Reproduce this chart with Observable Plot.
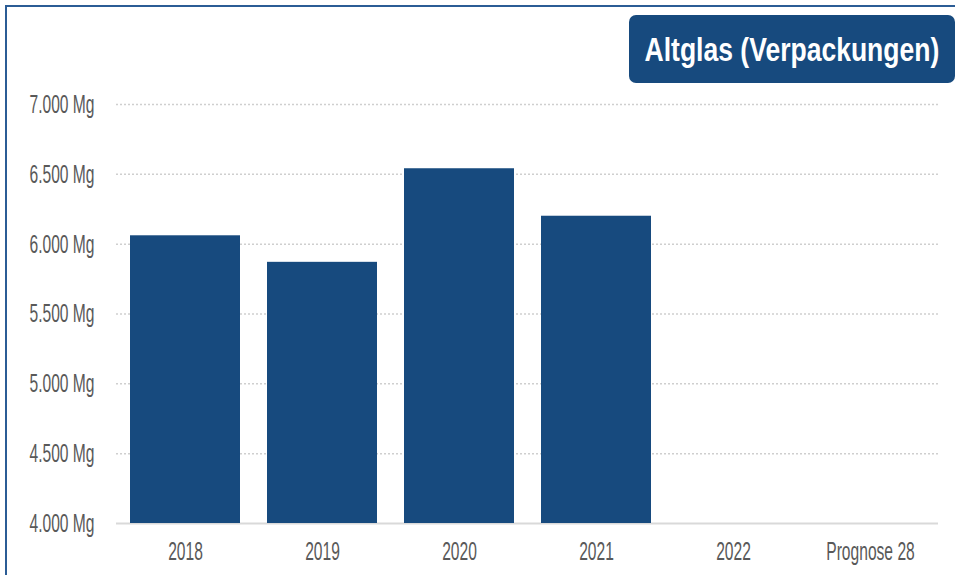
<!DOCTYPE html>
<html>
<head>
<meta charset="utf-8">
<script src="https://cdn.jsdelivr.net/npm/d3@7"></script>
<script src="https://cdn.jsdelivr.net/npm/@observablehq/plot@0.6"></script>
<style>
  html, body { margin: 0; padding: 0; background: #fff; overflow: hidden; }
  #wrap { position: relative; width: 955px; height: 575px; overflow: hidden; }
  #frame { position: absolute; left: 5px; top: 5px; width: 1000px; height: 1000px;
           border-left: 2px solid #2b5c95; border-top: 2px solid #2b5c95; }
  #title { position: absolute; left: 629px; top: 15px; width: 326px; height: 68px;
           background: #174a7e; border-radius: 7px; color: #fff;
           font-family: "Liberation Sans", Arial, sans-serif; font-weight: bold;
           font-size: 34px; line-height: 68px; white-space: nowrap;
           display: flex; justify-content: center; align-items: center; }
  #title span { display: block; flex: none; transform: scaleX(0.78); transform-origin: center; }
  #chart { position: absolute; left: 0; top: 0; }
</style>
</head>
<body>
<div id="wrap">
  <div id="frame"></div>
  <div id="chart"></div>
  <div id="title"><span>Altglas (Verpackungen)</span></div>
</div>
<script>
const years = ["2018", "2019", "2020", "2021", "2022", "Prognose 28"];
const tonnes = [6060, 5870, 6540, 6200, null, null];
const yTicks = [4000, 4500, 5000, 5500, 6000, 6500, 7000];
const yBase = 4000;

const data = years.map((year, i) => ({year, value: tonnes[i]})).filter(d => d.value != null);
const fmt = d => d3.format(",")(d).replace(/,/g, ".") + " Mg";

const chart = Plot.plot({
  width: 955,
  height: 575,
  marginLeft: 116,
  marginRight: 17,
  marginTop: 104,
  marginBottom: 52,
  style: {fontFamily: "'Liberation Sans', Arial, sans-serif", color: "#595959", background: "transparent", overflow: "visible"},
  x: {domain: years, paddingInner: 0.2, paddingOuter: 0.1, label: null},
  y: {domain: [yBase, yTicks[yTicks.length - 1]], label: null},
  marks: [
    Plot.gridY(yTicks.slice(1), {stroke: "#cfcfcf", strokeOpacity: 1, strokeWidth: 1.5, strokeDasharray: "2,2"}),
    Plot.ruleY([yBase], {stroke: "#d9d9d9", strokeWidth: 2}),
    Plot.barY(data, {x: "year", y1: yBase, y2: "value", fill: "#174a7e"}),
    Plot.axisY(yTicks, {tickSize: 0, tickPadding: 22, tickFormat: fmt, fontSize: 26, fill: "#595959"}),
    Plot.axisX({tickSize: 0, tickPadding: 18, fontSize: 26, fill: "#595959"})
  ]
});
document.getElementById("chart").appendChild(chart);

// condense the axis text horizontally (condensed typeface look)
const s = 0.6;
chart.querySelectorAll("text").forEach(t => {
  const x = parseFloat(t.getAttribute("x")) || 0;
  t.setAttribute("x", x / s);
  const tr = t.getAttribute("transform") || "";
  t.setAttribute("transform", (tr + ` scale(${s},1)`).trim());
});
</script>
</body>
</html>
